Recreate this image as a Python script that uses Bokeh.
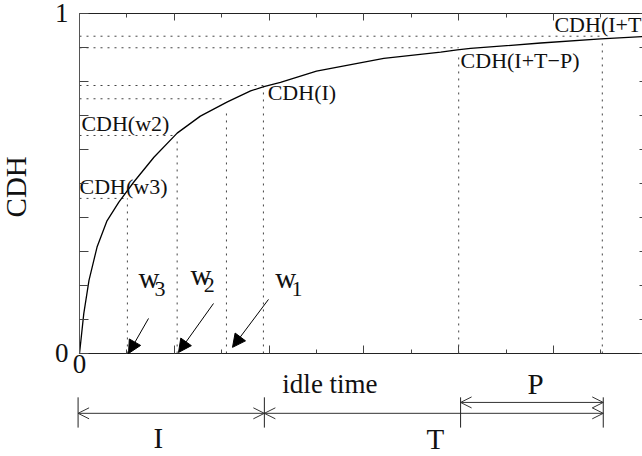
import math
from bokeh.plotting import figure
from bokeh.models import (Range1d, LinearAxis, FixedTicker, CustomJSTickFormatter,
                          Label, Arrow, NormalHead, OpenHead)
from bokeh.core.properties import value
from bokeh.embed import file_html
from bokeh.resources import INLINE

# ---- data ----
curve_x = [0.0, 0.09, 0.2, 0.37, 0.58, 0.83, 1.15, 1.57, 2.06, 2.55, 3.12, 3.61,
           3.89, 4.24, 5.0, 6.42, 7.62, 7.97, 8.25, 9.73, 11.0, 11.88]
curve_y = [0.0, 0.117, 0.215, 0.313, 0.39, 0.445, 0.505, 0.577, 0.648, 0.698, 0.74,
           0.772, 0.785, 0.797, 0.83, 0.868, 0.886, 0.893, 0.897, 0.913, 0.925, 0.932]

key_names = ["w3", "w2", "w1", "I", "I+T-P", "I+T"]
key_x = [1.01, 2.06, 3.1, 3.88, 8.0, 11.03]
key_cdh = [0.456, 0.641, 0.749, 0.788, 0.899, 0.933]
key_drop_top = [0.456, 0.626, 0.72, 0.785, 0.885, 0.92]

cdh_labels = ["CDH(w3)", "CDH(w2)", "CDH(I)", "CDH(I+T\u2212P)", "CDH(I+T)"]
cdh_label_x = [0.0, 0.04, 3.97, 8.04, 10.02]
cdh_label_y = [0.492, 0.677, 0.768, 0.862, 0.968]

w_text = ["w", "w", "w"]
w_subs = ["3", "2", "1"]
w_x = [1.245, 2.34, 4.13]
w_y = [0.223, 0.232, 0.223]
w_sub_x = [1.58, 2.62, 4.47]
w_sub_y = [0.189, 0.2, 0.189]
w_arrow_x0 = [1.456, 2.827, 3.987]
w_arrow_y0 = [0.103, 0.147, 0.159]
w_arrow_x1 = [1.034, 2.089, 3.228]
w_arrow_y1 = [0.0, 0.003, 0.018]

interval_names = ["I", "T", "P"]
interval_start = [-0.03, 3.9, 8.04]
interval_end = [3.9, 11.05, 11.05]
interval_y = [-0.176, -0.176, -0.144]
interval_label_x = [1.56, 7.32, 9.45]
interval_label_y = [-0.250, -0.253, -0.089]
bar_x = [-0.03, 3.9, 8.04, 11.05]
bar_y0 = -0.129
bar_y1 = -0.218
idle_label = "idle time"
idle_x, idle_y = 4.28, -0.089

y_axis_title = "CDH"
y_title_x, y_title_y = -1.33, 0.49

x_major = [0, 2, 4, 6, 8, 10]
x_minor = [1, 3, 5, 7, 9, 11]
y_major = [0, 1]
y_minor = [0.1, 0.2, 0.3, 0.4, 0.5, 0.6, 0.7, 0.8, 0.9]
y_all = [0.0, 0.1, 0.2, 0.3, 0.4, 0.5, 0.6, 0.7, 0.8, 0.9, 1.0]
x_lo, x_hi = -1.667, 11.878
y_lo, y_hi = -0.303, 1.038

FONT = "Liberation Serif"
INK = "#111111"
TICK = "#444444"

p = figure(width=642, height=456, x_range=Range1d(x_lo, x_hi), y_range=Range1d(y_lo, y_hi),
           x_axis_type=None, y_axis_type=None, output_backend="svg",
           toolbar_location=None, min_border_left=0, min_border_top=0,
           min_border_right=0, min_border_bottom=0)
p.outline_line_color = None
p.background_fill_color = "white"
p.border_fill_color = "white"

left = LinearAxis(ticker=FixedTicker(ticks=y_major, minor_ticks=y_minor), bounds=(0, 1),
                  fixed_location=0,
                  major_tick_in=9, major_tick_out=0, minor_tick_in=9, minor_tick_out=0,
                  major_label_standoff=11, major_label_text_font=FONT,
                  major_label_text_font_size="27px", major_label_text_color=INK,
                  axis_line_color="#555555", major_tick_line_color=TICK,
                  minor_tick_line_color=TICK)
p.add_layout(left, "left")

bottom = LinearAxis(ticker=FixedTicker(ticks=x_major, minor_ticks=x_minor), fixed_location=0,
                    bounds=(0, x_hi),
                    formatter=CustomJSTickFormatter(code="return tick == 0 ? '0' : ''"),
                    major_tick_in=8, major_tick_out=0, minor_tick_in=4, minor_tick_out=0,
                    major_label_standoff=2, major_label_text_font=FONT,
                    major_label_text_font_size="27px", major_label_text_color=INK,
                    axis_line_color="#222222", major_tick_line_color=TICK,
                    minor_tick_line_color=TICK)
p.add_layout(bottom, "below")

top_major = LinearAxis(ticker=FixedTicker(ticks=[], minor_ticks=x_major), fixed_location=1,
                       bounds=(0, x_hi),
                       minor_tick_in=7, minor_tick_out=0, major_tick_in=0, major_tick_out=0,
                       axis_line_color="#222222", minor_tick_line_color=TICK)
p.add_layout(top_major, "above")
top_minor = LinearAxis(ticker=FixedTicker(ticks=[], minor_ticks=x_minor), fixed_location=1,
                       bounds=(0, x_hi),
                       minor_tick_in=4, minor_tick_out=0, major_tick_in=0, major_tick_out=0,
                       axis_line_alpha=0, minor_tick_line_color=TICK)
p.add_layout(top_minor, "above")

right = LinearAxis(ticker=FixedTicker(ticks=[], minor_ticks=y_all), bounds=(0, 1),
                   fixed_location=x_hi,
                   minor_tick_in=3, minor_tick_out=0, major_tick_in=0, major_tick_out=0,
                   axis_line_alpha=0, minor_tick_line_color=TICK)
p.add_layout(right, "right")

# y axis title
p.add_layout(Label(x=y_title_x, y=y_title_y, text=y_axis_title, angle=math.pi / 2,
                   text_font=FONT, text_font_size="29px", text_color=INK,
                   text_align="center", text_baseline="middle"))

# dotted guide lines
zeros = [0] * len(key_x)
p.segment(x0=zeros, y0=key_cdh, x1=key_x, y1=key_cdh, line_color="#444444",
          line_width=1, line_dash="2 5")
p.segment(x0=key_x, y0=zeros, x1=key_x, y1=key_drop_top, line_color="#444444",
          line_width=1, line_dash="2 5")

# CDH curve
p.line(curve_x, curve_y, line_color="black", line_width=1.3)

# CDH labels
p.text(x=cdh_label_x, y=cdh_label_y, text=cdh_labels, text_font=value(FONT),
       text_font_size="22px", text_color=INK, text_baseline="alphabetic", text_align="left")

# w labels with subscripts
p.text(x=w_x, y=w_y, text=w_text, text_font=value(FONT), text_font_size="29px",
       text_color=INK, text_baseline="alphabetic", text_align="left")
p.text(x=w_sub_x, y=w_sub_y, text=w_subs, text_font=value(FONT), text_font_size="22px",
       text_color=INK, text_baseline="alphabetic", text_align="left")

for x0, y0, x1, y1 in zip(w_arrow_x0, w_arrow_y0, w_arrow_x1, w_arrow_y1):
    p.add_layout(Arrow(x_start=x0, y_start=y0, x_end=x1, y_end=y1, line_color="black",
                       line_width=1,
                       end=NormalHead(size=13, fill_color="black", line_color="black")))

# dimension lines below the axis
for x0, x1, y in zip(interval_start, interval_end, interval_y):
    p.add_layout(Arrow(x_start=x0, y_start=y, x_end=x1, y_end=y, line_color="#333333",
                       line_width=1,
                       start=OpenHead(size=11, line_color="#333333", line_width=1),
                       end=OpenHead(size=11, line_color="#333333", line_width=1)))
for bx in bar_x:
    p.add_layout(Arrow(x_start=bx, y_start=bar_y0, x_end=bx, y_end=bar_y1,
                       line_color="#222222", line_width=1, start=None, end=None))

for name, lx, ly in zip(interval_names, interval_label_x, interval_label_y):
    p.add_layout(Label(x=lx, y=ly, text=name, text_font=FONT, text_font_size="29px",
                       text_color=INK, text_baseline="alphabetic", text_align="left"))
p.add_layout(Label(x=idle_x, y=idle_y, text=idle_label, text_font=FONT,
                   text_font_size="27px", text_color=INK, text_baseline="alphabetic",
                   text_align="left"))

open("out.html", "w").write(file_html(p, INLINE))
